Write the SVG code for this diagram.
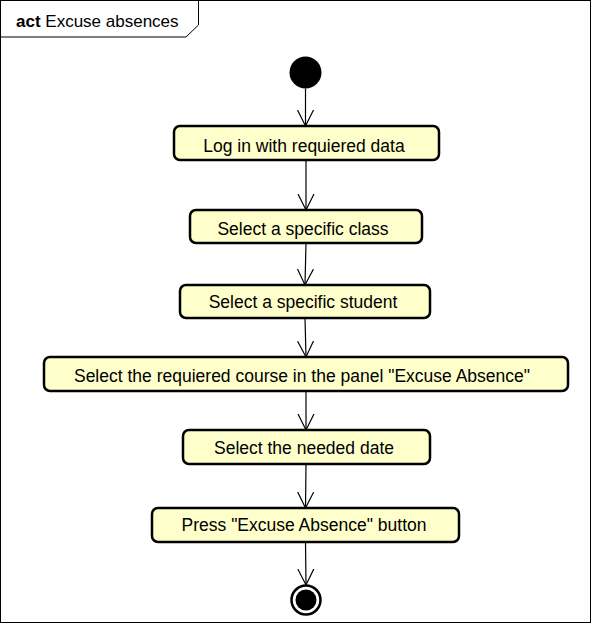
<svg xmlns="http://www.w3.org/2000/svg" width="592" height="624" viewBox="0 0 592 624">
<defs>
<style>
.node rect{fill:#ffffcc;stroke:#000;stroke-width:2.5}
.node text{font-family:"Liberation Sans",Arial,sans-serif;font-size:17.5px;fill:#000;text-anchor:middle}
.conn line{stroke:#000;stroke-width:1.2}
.conn{fill:none}
</style>
<marker id="arr" viewBox="0 0 20 20" refX="16" refY="10" markerWidth="20" markerHeight="20" markerUnits="userSpaceOnUse" orient="auto">
<path d="M0,2 L16,10 L0,18" fill="none" stroke="#000" stroke-width="1.2"/>
</marker>
</defs>
<rect width="592" height="624" fill="#fff"/>
<g id="frame">
<rect x="0.5" y="0.5" width="590" height="622" fill="none" stroke="#000" stroke-width="1"/>
<path d="M0.5,37 L186,37 L198.5,25 L198.5,0.5" fill="none" stroke="#000" stroke-width="1"/>
<text x="16" y="27" font-family="Liberation Sans,Arial,sans-serif" font-size="17"><tspan font-weight="bold">act</tspan> Excuse absences</text>
</g>
<g id="start"><circle cx="305.5" cy="72.5" r="16" fill="#000"/></g>
<g id="n1" class="node"><rect x="174" y="126" width="265" height="34" rx="6"/><text x="304" y="152">Log in with requiered data</text></g>
<g id="n2" class="node"><rect x="190" y="210" width="232" height="33" rx="6"/><text x="303" y="235">Select a specific class</text></g>
<g id="n3" class="node"><rect x="180" y="285" width="250" height="33" rx="6"/><text x="303" y="308">Select a specific student</text></g>
<g id="n4" class="node"><rect x="44" y="357" width="524" height="34" rx="6"/><text x="302" y="382">Select the requiered course in the panel "Excuse Absence"</text></g>
<g id="n5" class="node"><rect x="183" y="430" width="247" height="34" rx="6"/><text x="304" y="454">Select the needed date</text></g>
<g id="n6" class="node"><rect x="152" y="508" width="307" height="34" rx="6"/><text x="304" y="531">Press "Excuse Absence" button</text></g>
<g id="end"><circle cx="306" cy="600" r="14.5" fill="#fff" stroke="#000" stroke-width="2.5"/><circle cx="306" cy="600" r="10.5" fill="#000"/></g>
<g id="connectors" class="conn">
<line x1="305.5" y1="88.5" x2="305.5" y2="126" marker-end="url(#arr)"/>
<line x1="306" y1="160" x2="306" y2="210" marker-end="url(#arr)"/>
<line x1="306" y1="243" x2="305" y2="285" marker-end="url(#arr)"/>
<line x1="305" y1="318" x2="306" y2="357" marker-end="url(#arr)"/>
<line x1="306" y1="391" x2="306" y2="430" marker-end="url(#arr)"/>
<line x1="306" y1="464" x2="305.5" y2="508" marker-end="url(#arr)"/>
<line x1="305.5" y1="542" x2="306" y2="585" marker-end="url(#arr)"/>
</g>
</svg>
